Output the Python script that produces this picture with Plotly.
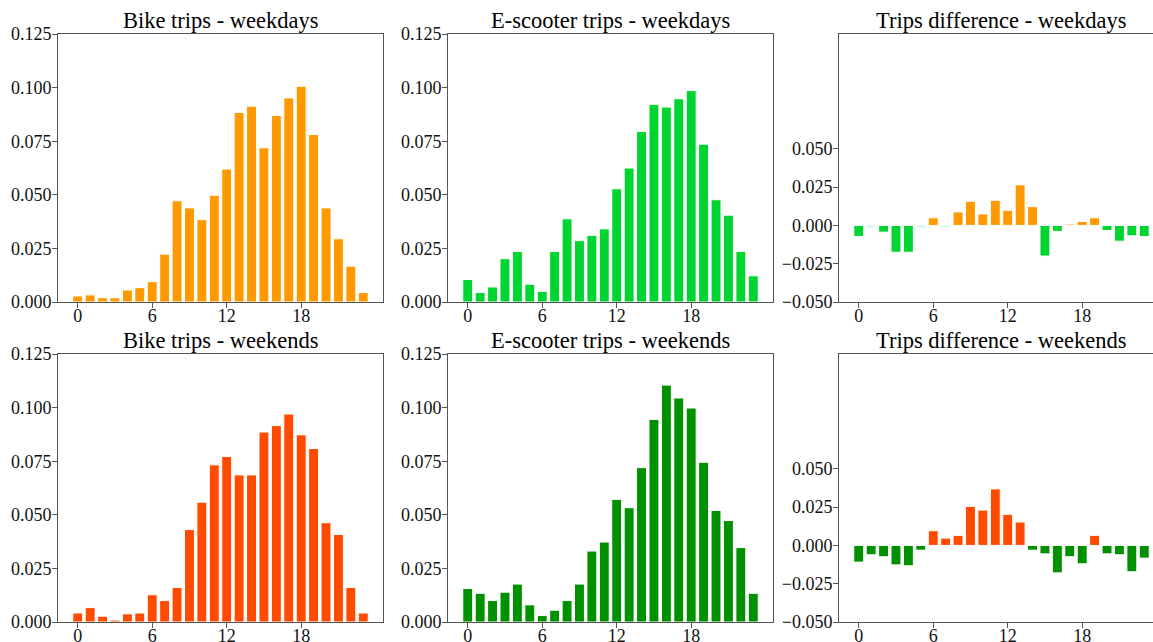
import plotly.graph_objects as go

hours = list(range(24))
x_tick_vals = [0, 6, 12, 18]
x_tick_text = ["0", "6", "12", "18"]

bike_weekdays = [0.0028, 0.0033, 0.0020, 0.0020, 0.0056, 0.0067, 0.0095, 0.0223,
                 0.0472, 0.0439, 0.0384, 0.0498, 0.0620, 0.0884, 0.0913, 0.0719,
                 0.0870, 0.0952, 0.1006, 0.0781, 0.0439, 0.0295, 0.0167, 0.0044]
scooter_weekdays = [0.0105, 0.0044, 0.0070, 0.0202, 0.0236, 0.0083, 0.0050, 0.0236,
                    0.0388, 0.0286, 0.0311, 0.0341, 0.0528, 0.0625, 0.0795, 0.0922,
                    0.0909, 0.0948, 0.0986, 0.0736, 0.0477, 0.0405, 0.0236, 0.0122]
diff_weekdays = [-0.0072, -0.0009, -0.0044, -0.0175, -0.0175, -0.0009, 0.0050, -0.0009,
                 0.0088, 0.0158, 0.0075, 0.0164, 0.0099, 0.0265, 0.0123, -0.0200,
                 -0.0039, 0.0009, 0.0026, 0.0050, -0.0033, -0.0103, -0.0068, -0.0072]

bike_weekends = [0.0042, 0.0067, 0.0027, 0.0009, 0.0038, 0.0042, 0.0127, 0.0100,
                 0.0161, 0.0431, 0.0559, 0.0733, 0.0772, 0.0686, 0.0686, 0.0886,
                 0.0916, 0.0970, 0.0873, 0.0809, 0.0463, 0.0408, 0.0161, 0.0042]
scooter_weekends = [0.0156, 0.0134, 0.0100, 0.0139, 0.0177, 0.0080, 0.0030, 0.0055,
                    0.0100, 0.0177, 0.0331, 0.0373, 0.0572, 0.0533, 0.0720, 0.0945,
                    0.1105, 0.1045, 0.0998, 0.0745, 0.0520, 0.0473, 0.0347, 0.0134]
diff_weekends = [-0.0109, -0.0061, -0.0074, -0.0127, -0.0133, -0.0031, 0.0096, 0.0048,
                 0.0066, 0.0255, 0.0231, 0.0369, 0.0203, 0.0153, -0.0031, -0.0055,
                 -0.0179, -0.0074, -0.0120, 0.0066, -0.0055, -0.0061, -0.0172, -0.0083]

titles = ["Bike trips - weekdays", "E-scooter trips - weekdays", "Trips difference - weekdays",
          "Bike trips - weekends", "E-scooter trips - weekends", "Trips difference - weekends"]

ORANGE = "#ff9900"
GREEN = "#00d431"
ORANGERED = "#ff4a00"
DKGREEN = "#009000"

W, H = 1153, 642
FONT = "Liberation Serif"

# pixel boxes (left, right, top, bottom)
cols = [(58, 383), (448, 773), (839, 1153)]
rows = [(34, 302), (354, 622)]
PANEL_W = 325
px_per_unit = PANEL_W / 26.18
x_left = -1.59

def sign_colors(vals, pos, neg):
    return [pos if v >= 0 else neg for v in vals]

series = [
    (bike_weekdays, ORANGE),
    (scooter_weekdays, GREEN),
    (diff_weekdays, sign_colors(diff_weekdays, ORANGE, GREEN)),
    (bike_weekends, ORANGERED),
    (scooter_weekends, DKGREEN),
    (diff_weekends, sign_colors(diff_weekends, ORANGERED, DKGREEN)),
]

fig = go.Figure()
layout = dict(width=W, height=H, margin=dict(l=0, r=0, t=0, b=0, pad=0, autoexpand=False),
              plot_bgcolor="white", paper_bgcolor="white", showlegend=False,
              font=dict(family=FONT, size=18, color="black"), bargap=0.2)
annotations = []

for i, (vals, col) in enumerate(series):
    r, c = divmod(i, 3)
    n = i + 1
    xa = "x" if n == 1 else f"x{n}"
    ya = "y" if n == 1 else f"y{n}"
    fig.add_trace(go.Bar(x=hours, y=vals, width=0.8, xaxis=xa, yaxis=ya,
                         marker=dict(color=col, line=dict(color="white", width=1))))
    l, rr = cols[c]
    t, b = rows[r]
    x_right = x_left + (rr - l) / px_per_unit
    axis_line = dict(showline=True, linecolor="#555555", linewidth=1,
                     ticks="outside", ticklen=5, tickwidth=1, tickcolor="#555555",
                     showgrid=False, zeroline=False, automargin=False,
                     tickfont=dict(family=FONT, size=18, color="#111111"))
    layout["xaxis" if n == 1 else f"xaxis{n}"] = dict(
        domain=[l / W, min(rr / W, 1.0)], range=[x_left, x_right], anchor=ya,
        tickvals=x_tick_vals, ticktext=x_tick_text, mirror=True,
        ticklabelstandoff=-8, **axis_line)
    if c == 2:
        yd = dict(range=[-0.05, 0.125], tickvals=[-0.05, -0.025, 0, 0.025, 0.05],
                  mirror=False)
    else:
        yd = dict(range=[0, 0.125], tickvals=[0, 0.025, 0.05, 0.075, 0.1, 0.125],
                  mirror=True)
    layout["yaxis" if n == 1 else f"yaxis{n}"] = dict(
        domain=[(H - b) / H, (H - t) / H], anchor=xa, tickformat=".3f",
        ticklabelstandoff=-3, **yd, **axis_line)
    cx = l + PANEL_W / 2
    annotations.append(dict(text=titles[i], x=cx / W, y=(H - t) / H, xref="paper", yref="paper",
                            xanchor="center", yanchor="bottom", showarrow=False, yshift=-1,
                            font=dict(family=FONT, size=22.5, color="black")))

layout["annotations"] = annotations
fig.update_layout(**layout)
fig.write_html("out.html", config={"displayModeBar": False},
               post_script="document.body.style.margin='0';document.body.style.overflow='hidden';")
